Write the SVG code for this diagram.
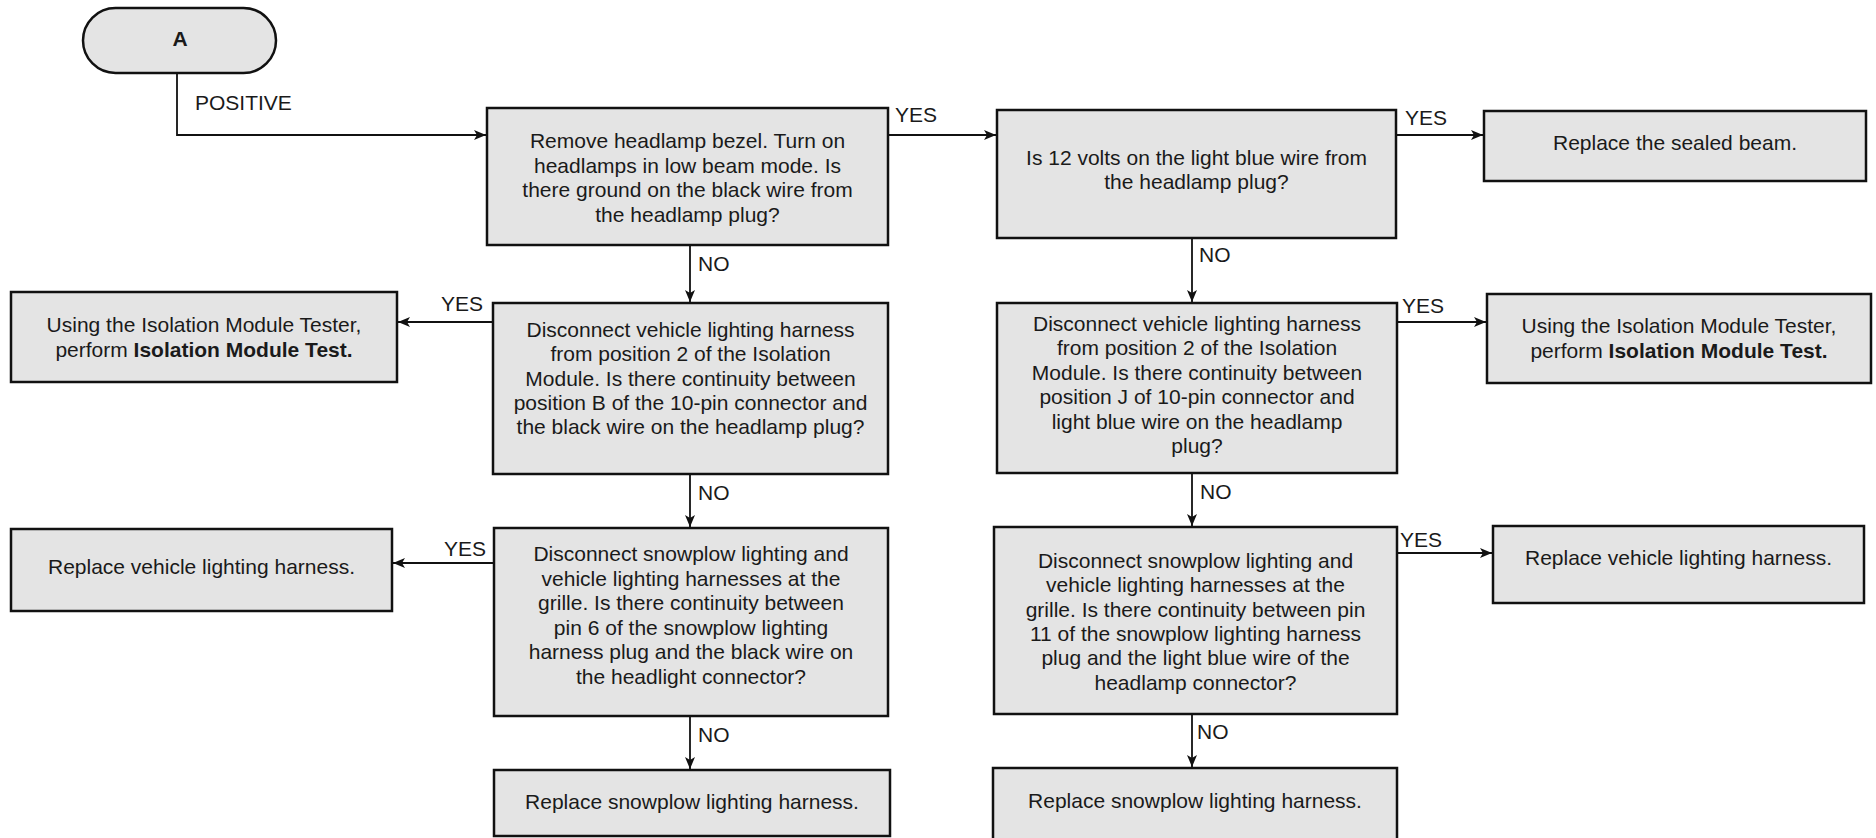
<svg xmlns="http://www.w3.org/2000/svg" width="1876" height="838" viewBox="0 0 1876 838">
<defs>
<marker id="ah" viewBox="0 0 12 10" refX="12" refY="5" markerWidth="12" markerHeight="10" orient="auto" markerUnits="userSpaceOnUse">
<path d="M0,0 L12,5 L0,10 L3,5 z" fill="#111"/>
</marker>
<style>
.box{fill:#e4e4e4;stroke:#111;stroke-width:2.5}
.t{font-family:"Liberation Sans",Arial,sans-serif;font-size:21px;fill:#1a1a1a;text-anchor:middle}
.lbl{font-family:"Liberation Sans",Arial,sans-serif;font-size:21px;fill:#1a1a1a}
.c{fill:none;stroke:#111;stroke-width:1.8;marker-end:url(#ah)}
</style>
</defs>
<rect width="1876" height="838" fill="#fff"/>

<g id="connectors">
<path class="c" d="M177,73 V135 H486"/>
<path class="c" d="M888,135 H996"/>
<path class="c" d="M1396,135 H1483"/>
<path class="c" d="M690,245 V302"/>
<path class="c" d="M493,322 H398"/>
<path class="c" d="M690,474 V527"/>
<path class="c" d="M494,563 H393"/>
<path class="c" d="M690,716 V769"/>
<path class="c" d="M1192,238 V302"/>
<path class="c" d="M1397,322 H1486"/>
<path class="c" d="M1192,473 V526"/>
<path class="c" d="M1397,553 H1492"/>
<path class="c" d="M1192,714 V767"/>
</g>

<g id="labels">
<text class="lbl" x="195" y="110">POSITIVE</text>
<text class="lbl" x="895" y="122">YES</text>
<text class="lbl" x="1405" y="125">YES</text>
<text class="lbl" x="698" y="271">NO</text>
<text class="lbl" x="441" y="311">YES</text>
<text class="lbl" x="698" y="500">NO</text>
<text class="lbl" x="444" y="556">YES</text>
<text class="lbl" x="698" y="742">NO</text>
<text class="lbl" x="1199" y="262">NO</text>
<text class="lbl" x="1402" y="313">YES</text>
<text class="lbl" x="1200" y="499">NO</text>
<text class="lbl" x="1400" y="547">YES</text>
<text class="lbl" x="1197" y="739">NO</text>
</g>

<g id="nodeA">
<rect class="box" x="83" y="8" width="193" height="65" rx="32.5" ry="32.5"/>
<text class="t" x="180" y="46" font-weight="bold">A</text>
</g>

<g id="node1">
<rect class="box" x="487" y="108" width="401" height="137"/>
<text class="t" x="687.5" y="148">Remove headlamp bezel. Turn on</text>
<text class="t" x="687.5" y="172.5">headlamps in low beam mode. Is</text>
<text class="t" x="687.5" y="197">there ground on the black wire from</text>
<text class="t" x="687.5" y="221.5">the headlamp plug?</text>
</g>

<g id="node2">
<rect class="box" x="997" y="110" width="399" height="128"/>
<text class="t" x="1196.5" y="165">Is 12 volts on the light blue wire from</text>
<text class="t" x="1196.5" y="189">the headlamp plug?</text>
</g>

<g id="node3">
<rect class="box" x="1484" y="111" width="382" height="70"/>
<text class="t" x="1675" y="150">Replace the sealed beam.</text>
</g>

<g id="node4">
<rect class="box" x="11" y="292" width="386" height="90"/>
<text class="t" x="204" y="332">Using the Isolation Module Tester,</text>
<text class="t" x="204" y="357">perform <tspan font-weight="bold">Isolation Module Test.</tspan></text>
</g>

<g id="node5">
<rect class="box" x="493" y="303" width="395" height="171"/>
<text class="t" x="690.5" y="337">Disconnect vehicle lighting harness</text>
<text class="t" x="690.5" y="361.3">from position 2 of the Isolation</text>
<text class="t" x="690.5" y="385.6">Module. Is there continuity between</text>
<text class="t" x="690.5" y="409.9">position B of the 10-pin connector and</text>
<text class="t" x="690.5" y="434.2">the black wire on the headlamp plug?</text>
</g>

<g id="node6">
<rect class="box" x="997" y="303" width="400" height="170"/>
<text class="t" x="1197" y="331">Disconnect vehicle lighting harness</text>
<text class="t" x="1197" y="355.4">from position 2 of the Isolation</text>
<text class="t" x="1197" y="379.8">Module. Is there continuity between</text>
<text class="t" x="1197" y="404.2">position J of 10-pin connector and</text>
<text class="t" x="1197" y="428.6">light blue wire on the headlamp</text>
<text class="t" x="1197" y="453">plug?</text>
</g>

<g id="node8">
<rect class="box" x="1487" y="294" width="384" height="89"/>
<text class="t" x="1679" y="333">Using the Isolation Module Tester,</text>
<text class="t" x="1679" y="358">perform <tspan font-weight="bold">Isolation Module Test.</tspan></text>
</g>

<g id="node7">
<rect class="box" x="494" y="528" width="394" height="188"/>
<text class="t" x="691" y="561">Disconnect snowplow lighting and</text>
<text class="t" x="691" y="585.5">vehicle lighting harnesses at the</text>
<text class="t" x="691" y="610">grille. Is there continuity between</text>
<text class="t" x="691" y="634.5">pin 6 of the snowplow lighting</text>
<text class="t" x="691" y="659">harness plug and the black wire on</text>
<text class="t" x="691" y="683.5">the headlight connector?</text>
</g>

<g id="node9">
<rect class="box" x="11" y="529" width="381" height="82"/>
<text class="t" x="201.5" y="574">Replace vehicle lighting harness.</text>
</g>

<g id="node10">
<rect class="box" x="994" y="527" width="403" height="187"/>
<text class="t" x="1195.5" y="568">Disconnect snowplow lighting and</text>
<text class="t" x="1195.5" y="592.3">vehicle lighting harnesses at the</text>
<text class="t" x="1195.5" y="616.6">grille. Is there continuity between pin</text>
<text class="t" x="1195.5" y="640.9">11 of the snowplow lighting harness</text>
<text class="t" x="1195.5" y="665.2">plug and the light blue wire of the</text>
<text class="t" x="1195.5" y="689.5">headlamp connector?</text>
</g>

<g id="node12">
<rect class="box" x="1493" y="526" width="371" height="77"/>
<text class="t" x="1678.5" y="565">Replace vehicle lighting harness.</text>
</g>

<g id="node11">
<rect class="box" x="494" y="770" width="396" height="66"/>
<text class="t" x="692" y="809">Replace snowplow lighting harness.</text>
</g>

<g id="node13">
<rect class="box" x="993" y="768" width="404" height="80"/>
<text class="t" x="1195" y="808">Replace snowplow lighting harness.</text>
</g>
</svg>
